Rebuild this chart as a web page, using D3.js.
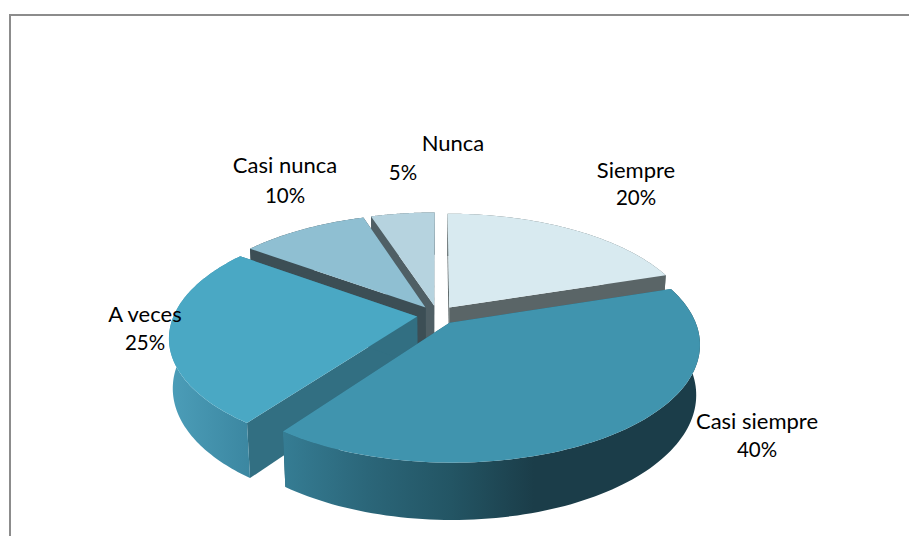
<!DOCTYPE html>
<html><head><meta charset="utf-8">
<script src="https://cdn.jsdelivr.net/npm/d3@7/dist/d3.min.js"></script>
<style>html,body{margin:0;padding:0;background:#fff;overflow:hidden}svg{display:block}text{font-family:Lato,"Open Sans",sans-serif;font-size:22px;fill:#000;text-anchor:middle}text.pct{font-size:20.5px}</style>
</head><body><svg id="c" width="909" height="536"></svg>
<script>
// Data
const categories = ["Siempre","Casi siempre","A veces","Casi nunca","Nunca"];
const values = [20,40,25,10,5];
// Styles
const topColors = ["#d8eaf0","#4094ae","#4aa8c4","#8fbfd2","#b6d3df"];
const sideColors = ["#5a6567","#2b6072","#326f82","#3c4e55","#4f5f65"];
const paintOrder = [4,3,0,2,1];
const labelAnchors = [[[636,178],[636,205]],[[757,429],[757,457]],[[145,322],[145,350]],[[285,173],[285,203]],[[453,151],[403,180]]];

// Projection model
const W=909,H=536, cx=437.4, cy=315, dist=5.74, fx=1396, fy=646, lift=284, sink=0.08, explode=0.084;
function project(x,z,bottom){
  const depth = dist - z + (bottom?sink:0);
  return [cx + fx*x/depth, cy + (fy*z + (bottom?lift:0))/depth];
}
const svg = d3.select("#c");
const defs = svg.append("defs");
const g1 = defs.append("linearGradient").attr("id","wall1").attr("gradientUnits","userSpaceOnUse").attr("x1",285).attr("x2",700).attr("y1",0).attr("y2",0);
[[0,"#357c93"],[0.2,"#2b6679"],[0.4,"#235564"],[0.6,"#1b3d49"],[1,"#1b3d49"]].forEach(s=>g1.append("stop").attr("offset",s[0]).attr("stop-color",s[1]));
const g2 = defs.append("linearGradient").attr("id","wall2").attr("gradientUnits","userSpaceOnUse").attr("x1",168).attr("x2",252).attr("y1",0).attr("y2",0);
[[0,"#4c9eb9"],[1,"#3b86a0"]].forEach(s=>g2.append("stop").attr("offset",s[0]).attr("stop-color",s[1]));
const wallFill = ["#5a6567","url(#wall1)","url(#wall2)","#3c4e55","#4f5f65"];

svg.append("rect").attr("x",10).attr("y",15).attr("width",W+20).attr("height",H+20).attr("fill","#fff").attr("stroke","#8c8c8c").attr("stroke-width",2);

const pie = d3.pie().sort(null).value(d=>d);
const arcs = pie(values);
const line = d3.line();
paintOrder.forEach(i=>{
  const a = arcs[i], mid=(a.startAngle+a.endAngle)/2;
  const ax = explode*Math.sin(mid), az = -explode*Math.cos(mid);
  const rim = (t,b)=>project(ax+Math.sin(t), az-Math.cos(t), b);
  const apex = b=>project(ax,az,b);
  const ts = d3.range(0,101).map(k=>a.startAngle+(a.endAngle-a.startAngle)*k/100);
  const g = svg.append("g");
  [a.startAngle,a.endAngle].forEach(t=>{
    g.append("path").attr("d",line([apex(false),rim(t,false),rim(t,true),apex(true)])+"Z")
     .attr("fill",sideColors[i]);
  });
  g.append("path").attr("d",line(ts.map(t=>rim(t,false)).concat(ts.slice().reverse().map(t=>rim(t,true))))+"Z").attr("fill",wallFill[i]);
  g.append("path").attr("d",line([apex(false)].concat(ts.map(t=>rim(t,false))))+"Z").attr("fill",topColors[i]);
});
const total = d3.sum(values);
categories.forEach((c,i)=>{
  svg.append("text").attr("x",labelAnchors[i][0][0]).attr("y",labelAnchors[i][0][1]).text(c);
  svg.append("text").attr("class","pct").attr("x",labelAnchors[i][1][0]).attr("y",labelAnchors[i][1][1]).text(d3.format(".0%")(values[i]/total));
});
</script></body></html>
